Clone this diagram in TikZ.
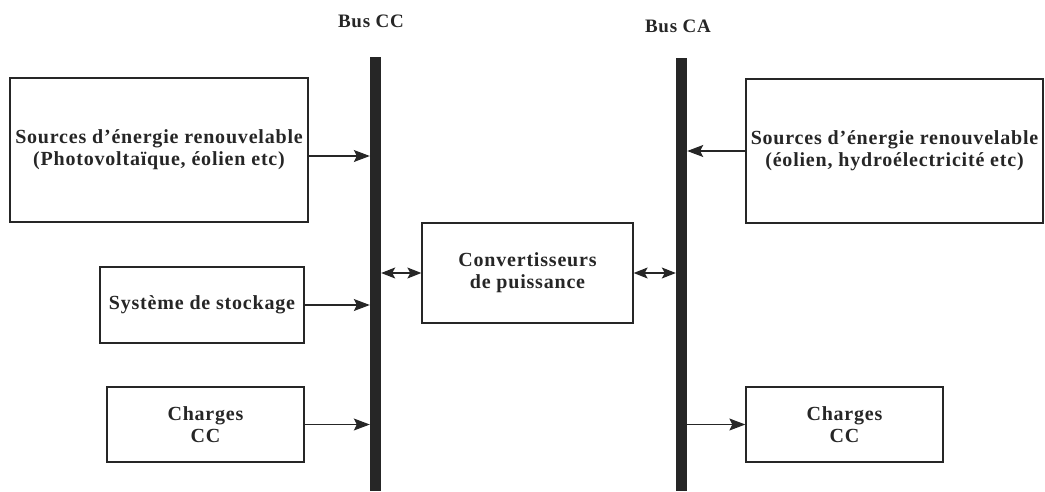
\documentclass[tikz,border=0pt]{standalone}
\usepackage{fontspec}
\setmainfont{Liberation Serif}[LetterSpace=4]
\usetikzlibrary{arrows.meta}
\begin{document}
\begin{tikzpicture}[x=1pt,y=-1pt,
  block/.style={draw=black!85,line width=1.3pt,inner sep=0pt,align=center,
    font=\fontsize{20}{22}\selectfont\bfseries,text=black!85},
  bus/.style={fill=black!85,draw=none,inner sep=0pt,minimum width=11pt},
  buslabel/.style={font=\fontsize{19}{22}\selectfont\bfseries,text=black!85},
  feed/.style={draw=black!85,line width=1.1pt,-{Stealth[length=16pt,width=12pt,inset=3pt]}},
  link/.style={draw=black!85,line width=1.1pt,
    {Stealth[length=14pt,width=11pt,inset=3pt]}-{Stealth[length=14pt,width=11pt,inset=3pt]}}]
\useasboundingbox (0,0) rectangle (1045,491);

% DC and AC bus bars
\node[bus,minimum height=434pt] (busCC) at (375.5,274) {};
\node[bus,minimum height=433pt] (busCA) at (681.5,274.5) {};
\node[buslabel] (lblCC) at (371,21) {Bus CC};
\node[buslabel] (lblCA) at (678,26) {Bus CA};

% DC side blocks
\node[block,minimum width=298pt,minimum height=144pt] (src1) at (159,150)
  {Sources d'énergie renouvelable\\(Photovoltaïque, éolien etc)};
\node[block,minimum width=204pt,minimum height=76pt] (sto) at (202,305)
  {Système de stockage};
\node[block,minimum width=197pt,minimum height=75pt] (chg1) at (205.5,424.5)
  {Charges\\CC};

% power converter between the buses
\node[block,minimum width=211pt,minimum height=100pt] (conv) at (527.5,273)
  {Convertisseurs\\de puissance};

% AC side blocks
\node[block,minimum width=297pt,minimum height=144pt] (src2) at (894.5,151)
  {Sources d'énergie renouvelable\\(éolien, hydroélectricité etc)};
\node[block,minimum width=197pt,minimum height=75pt] (chg2) at (844.5,424.5)
  {Charges\\CC};

% connections
\draw[feed] ([yshift=-6pt]src1.east) -- ([yshift=-6pt]src1.east -| busCC.west);
\draw[feed] (sto.east) -- (sto.east -| busCC.west);
\draw[feed] (chg1.east) -- (chg1.east -| busCC.west);
\draw[link] (conv.west -| busCC.east) -- (conv.west);
\draw[link] (conv.east) -- (conv.east -| busCA.west);
\draw[feed] (src2.west) -- (src2.west -| busCA.east);
\draw[feed] (chg2.west -| busCA.east) -- (chg2.west);
\end{tikzpicture}
\end{document}
